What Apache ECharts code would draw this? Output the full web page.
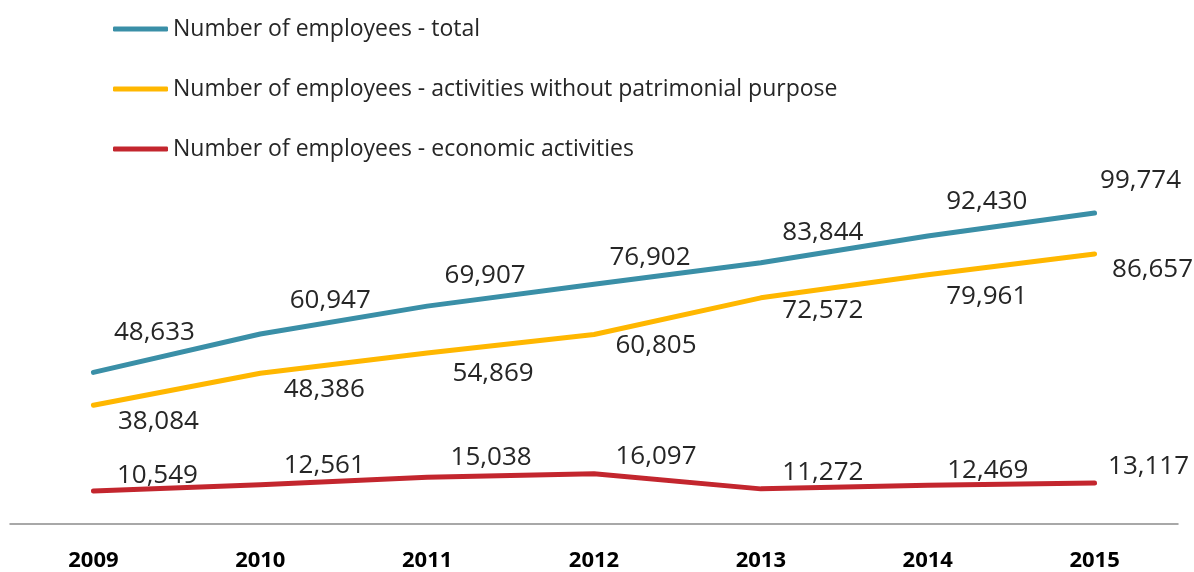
<!DOCTYPE html>
<html>
<head>
<meta charset="utf-8">
<script src="https://cdn.jsdelivr.net/npm/echarts@6/dist/echarts.min.js"></script>
<style>
  html, body { margin: 0; padding: 0; background: #fff; }
  #chart { width: 1194px; height: 572px; }
</style>
</head>
<body>
<div id="chart"></div>
<script>
var years = ['2009', '2010', '2011', '2012', '2013', '2014', '2015'];
var seriesNames = [
    'Number of employees - total',
    'Number of employees - activities without patrimonial purpose',
    'Number of employees - economic activities'
];
var totalValues = [48633, 60947, 69907, 76902, 83844, 92430, 99774];
var nonProfitValues = [38084, 48386, 54869, 60805, 72572, 79961, 86657];
var economicValues = [10549, 12561, 15038, 16097, 11272, 12469, 13117];

// label nudges
var totalOffsets = [[61, -40], [70, -33], [58, -31], [56, -27], [62, -30], [59, -34], [46, -32]];
var nonProfitOffsets = [[65, 16], [64, 16], [66, 21], [62, 11], [62, 13], [59, 22], [58, 16]];
var economicOffsets = [[64, -16], [64, -19], [64, -20], [62, -17], [62, -16], [60, -15], [54, -17]];

var colors = ['#3A8FA7', '#FFB700', '#C3262E'];
var fontName = '"Open Sans", "Noto Sans", sans-serif';

function make_series (name, values, offsets, color) {
    return {
        name: name,
        type: 'line',
        data: values,
        symbol: 'circle',
        symbolSize: 1,
        showSymbol: true,
        itemStyle: { color: color },
        lineStyle: { color: color, width: 5, cap: 'round', join: 'round' },
        label: {
            show: true,
            position: 'inside',
            align: 'center',
            verticalAlign: 'middle',
            color: '#262626',
            fontFamily: fontName,
            fontSize: 26,
            formatter: function (p) {
                return p.value.toLocaleString('en-US');
            }
        },
        labelLayout: function (params) {
            var o = offsets[params.dataIndex];
            return { dx: o[0], dy: o[1], hideOverlap: false };
        },
        emphasis: { disabled: true },
        animation: false
    };
}

var chartobj = echarts.init(document.getElementById('chart'));
var option = {
    backgroundColor: '#fff',
    animation: false,
    legend: {
        orient: 'vertical',
        left: 108,
        top: 11,
        itemWidth: 55,
        itemHeight: 5,
        itemGap: 34,
        icon: 'roundRect',
        data: seriesNames,
        textStyle: {
            color: '#262626',
            fontFamily: fontName,
            fontSize: 23,
            lineHeight: 26
        }
    },
    grid: {
        left: 10,
        right: 16,
        top: 150,
        bottom: 47
    },
    xAxis: {
        type: 'category',
        data: years,
        boundaryGap: true,
        axisLine: { lineStyle: { color: '#8c8c8c', width: 1.5 } },
        axisTick: { show: false },
        axisLabel: {
            color: '#000',
            fontFamily: fontName,
            fontSize: 22,
            fontWeight: 'bold',
            margin: 26
        }
    },
    yAxis: {
        type: 'value',
        min: 0,
        max: 120000,
        show: false,
        splitLine: { show: false }
    },
    series: [
        make_series(seriesNames[0], totalValues, totalOffsets, colors[0]),
        make_series(seriesNames[1], nonProfitValues, nonProfitOffsets, colors[1]),
        make_series(seriesNames[2], economicValues, economicOffsets, colors[2])
    ]
};
chartobj.setOption(option);
</script>
</body>
</html>
